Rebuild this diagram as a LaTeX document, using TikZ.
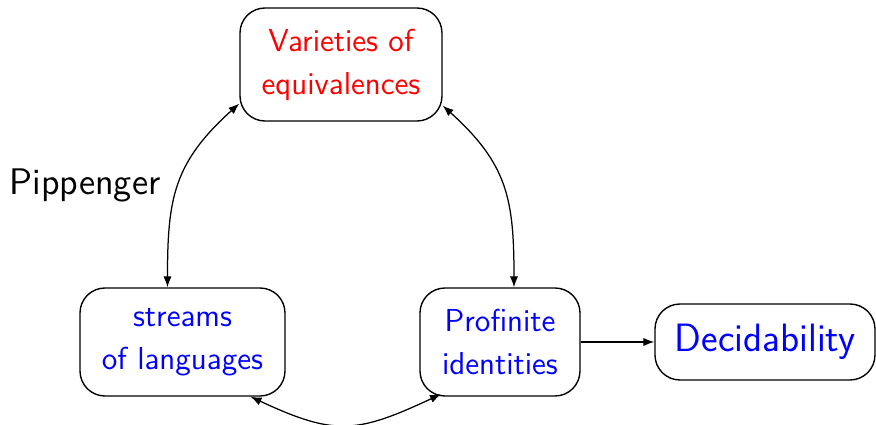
\documentclass[tikz,border=0pt]{standalone}
\usetikzlibrary{arrows.meta}
\begin{document}
\begin{tikzpicture}[x=0.4pt,y=-0.4pt,
  box/.style={draw,line width=0.55pt,rounded corners=10pt,align=center,inner sep=0pt,
    font=\sffamily\fontsize{12.7}{17.2}\selectfont},
  link/.style={line width=0.5pt,{Latex[length=4.4pt,width=3.3pt]}-{Latex[length=4.4pt,width=3.3pt]}},
  onelink/.style={line width=0.5pt,-{Latex[length=4.4pt,width=3.3pt]}}]
\useasboundingbox (0,0) rectangle (876,425);
\node[box,text=red,minimum width=80.8pt,minimum height=45.2pt] (var) at (341,64.5) {Varieties of\\equivalences};
\node[box,text=blue,minimum width=82pt,minimum height=43.2pt] (str) at (182.5,342) {streams\\of languages};
\node[box,text=blue,minimum width=64pt,minimum height=43.2pt] (pro) at (500,342) {Profinite\\identities};
\node[box,text=blue,minimum width=88pt,minimum height=30.4pt,font=\sffamily\fontsize{15.8}{18}\selectfont] (dec) at (765,342) {Decidability};
\node[font=\sffamily\fontsize{14.8}{16}\selectfont,inner sep=0pt] (pip) at (85,185) {Pippenger};
\draw[link] (var.201.8) to[out=222,in=90,looseness=1.15] ([xshift=-6pt]str.north);
\draw[link] (var.338.1) to[out=-42,in=90,looseness=1.15] ([xshift=5.6pt]pro.north);
\draw[link] ([xshift=27.2pt]str.south) to[out=-25,in=205,looseness=1.25] ([xshift=-23.6pt,yshift=1pt]pro.south);
\draw[onelink] (pro.east) -- (dec.west);
\end{tikzpicture}
\end{document}
